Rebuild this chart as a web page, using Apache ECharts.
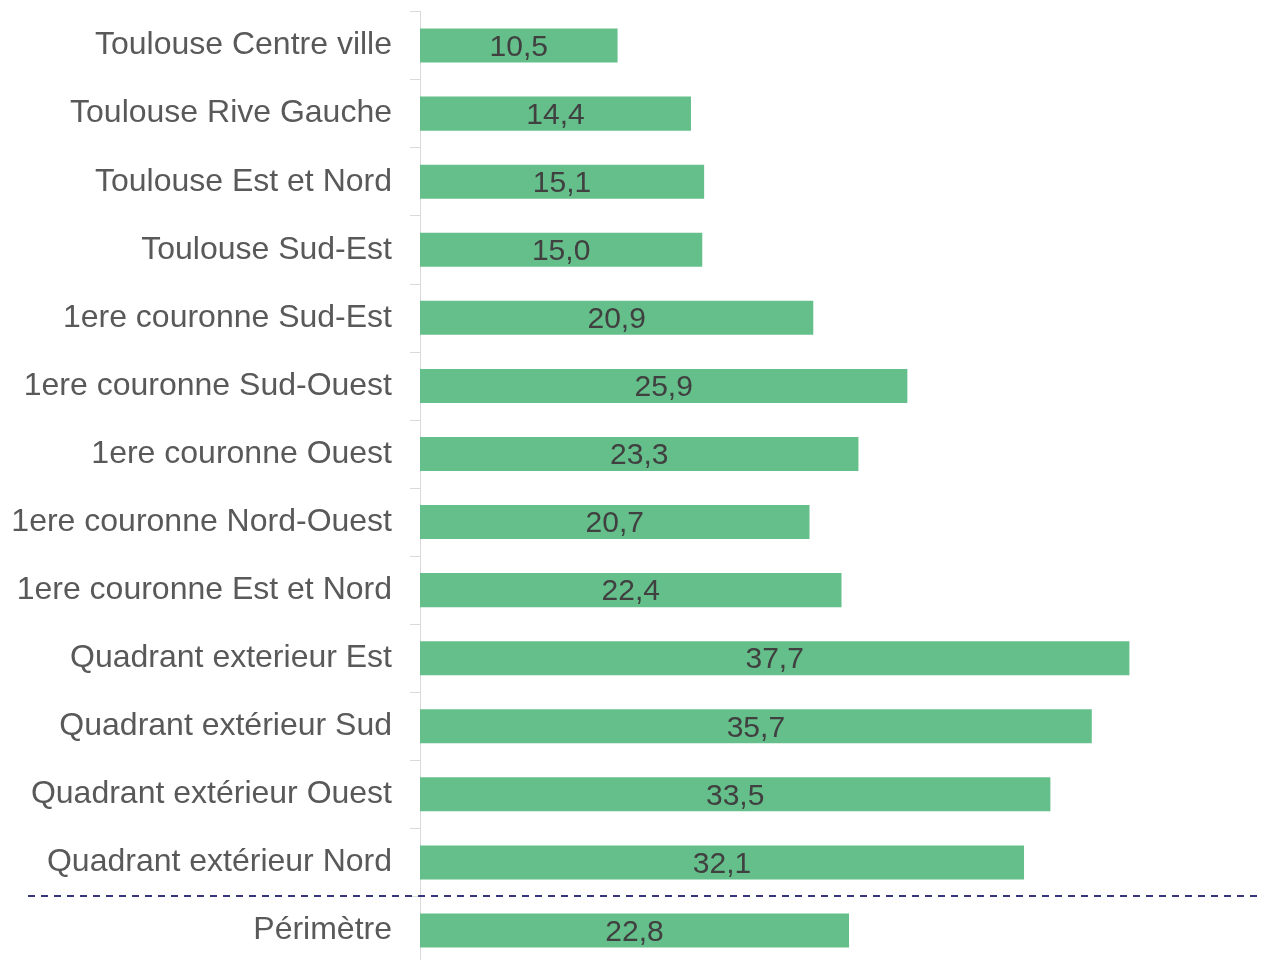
<!DOCTYPE html>
<html>
<head>
<meta charset="utf-8">
<script src="https://cdn.jsdelivr.net/npm/echarts@6/dist/echarts.min.js"></script>
<style>
html,body{margin:0;padding:0;background:#fff;overflow:hidden;}
#chart{width:1263px;height:970px;}
</style>
</head>
<body>
<div id="chart"></div>
<script>
var categories = [
	'Toulouse Centre ville',
	'Toulouse Rive Gauche',
	'Toulouse Est et Nord',
	'Toulouse Sud-Est',
	'1ere couronne Sud-Est',
	'1ere couronne Sud-Ouest',
	'1ere couronne Ouest',
	'1ere couronne Nord-Ouest',
	'1ere couronne Est et Nord',
	'Quadrant exterieur Est',
	'Quadrant extérieur Sud',
	'Quadrant extérieur Ouest',
	'Quadrant extérieur Nord',
	'Périmètre'
];
var values = [10.5, 14.4, 15.1, 15.0, 20.9, 25.9, 23.3, 20.7, 22.4, 37.7, 35.7, 33.5, 32.1, 22.8];

var myChar = echarts.init(document.getElementById('chart'));
var myOption = {
	animation: false,
	grid: {
		left: 420,
		top: 11.5,
		right: 0,
		height: 953,
		containLabel: false
	},
	xAxis: {
		type: 'value',
		min: 0,
		max: 44.8,
		show: false
	},
	yAxis: {
		type: 'category',
		inverse: true,
		data: categories,
		axisLine: {show: true, lineStyle: {color: '#d9d9d9', width: 1}},
		axisTick: {show: true, length: 10, lineStyle: {color: '#d9d9d9'}},
		axisLabel: {
			color: '#595959',
			fontSize: 32,
			fontFamily: 'Liberation Sans, Arial, sans-serif',
			margin: 28
		}
	},
	series: [{
		type: 'bar',
		data: values,
		barWidth: '50%',
		itemStyle: {color: '#64bf8a'},
		label: {
			show: true,
			position: 'inside',
			color: '#404040',
			fontSize: 30,
			fontFamily: 'Liberation Sans, Arial, sans-serif',
			offset: [0, 2],
			formatter: function (p) {
				return p.value.toFixed(1).replace('.', ',');
			}
		}
	}]
};
myChar.setOption(myOption);

// ligne pointillée entre les quadrants et le périmètre
var y1 = myChar.convertToPixel({yAxisIndex: 0}, categories[categories.length - 2]);
var y2 = myChar.convertToPixel({yAxisIndex: 0}, categories[categories.length - 1]);
var yLine = Math.round((y1 + y2) / 2);
myChar.setOption({
	graphic: [{
		type: 'line',
		shape: {x1: 28, y1: yLine, x2: 1260, y2: yLine},
		style: {stroke: '#35357a', lineWidth: 2, lineDash: [7, 6]},
		z: 10
	}]
});
</script>
</body>
</html>
